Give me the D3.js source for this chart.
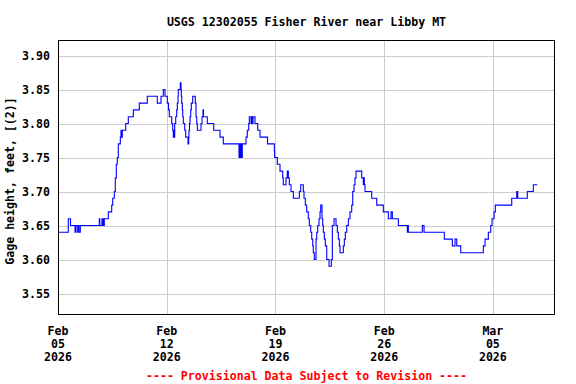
<!DOCTYPE html>
<html>
<head>
<meta charset="utf-8">
<script src="https://cdn.jsdelivr.net/npm/d3@7/dist/d3.min.js"></script>
<style>
  html, body { margin: 0; padding: 0; background: #fff; }
  svg { display: block; }
  text { font-family: "DejaVu Sans Mono", "Liberation Mono", monospace; font-weight: bold; font-size: 11.6px; }
</style>
</head>
<body>
<svg id="chart" width="576" height="384"></svg>
<script>
// ---- Data ----
const titleText = "USGS 12302055 Fisher River near Libby MT";
const yLabelText = "Gage height, feet, [(2)]";
const footerText = "---- Provisional Data Subject to Revision ----";

// time as days after 2026-02-05 00:00
const dayOffsets = [
  0, 0.663, 0.805, 1.095, 1.159, 1.269, 1.307, 1.352, 1.436, 2.659, 2.692, 2.833, 2.878, 2.917, 2.949, 2.981,
  3.239, 3.458, 3.522, 3.625, 3.690, 3.754, 3.818, 3.883, 4.012, 4.057, 4.102, 4.140, 4.359, 4.527, 4.849,
  5.235, 5.750, 6.394, 6.632, 6.780, 6.890, 7.038, 7.115, 7.167, 7.321, 7.386, 7.424, 7.457, 7.482, 7.515,
  7.579, 7.643, 7.682, 7.727, 7.746, 7.875, 7.920, 7.940, 7.965, 8.004, 8.030, 8.068, 8.159, 8.223, 8.371,
  8.416, 8.435, 8.468, 8.500, 8.545, 8.583, 8.674, 8.841, 8.886, 8.931, 8.970, 9.208, 9.273, 9.337, 9.369,
  9.614, 10.026, 10.431, 10.644, 11.655, 11.700, 11.739, 11.784, 11.816, 11.867, 12.106, 12.189, 12.280,
  12.318, 12.428, 12.473, 12.511, 12.556, 12.685, 12.859, 13.007, 13.490, 13.928, 13.948, 14.121, 14.295,
  14.469, 14.507, 14.681, 14.765, 14.830, 14.894, 15.003, 15.151, 15.538, 15.628, 15.795, 15.840, 15.924,
  16.014, 16.117, 16.182, 16.272, 16.336, 16.401, 16.439, 16.504, 16.613, 16.658, 16.723, 16.806, 16.871,
  16.916, 17.000, 17.045, 17.083, 17.148, 17.212, 17.302, 17.450, 17.598, 17.663, 17.772, 17.901, 17.985,
  18.049, 18.113, 18.158, 18.371, 18.435, 18.500, 18.590, 18.693, 18.802, 18.912, 18.976, 19.060, 19.124,
  19.189, 19.556, 19.659, 19.691, 19.723, 19.768, 20.200, 20.522, 20.947, 21.269, 21.442, 21.526, 21.913,
  22.492, 22.524, 22.556, 23.458, 23.567, 24.874, 25.390, 25.563, 25.673, 25.930, 27.386, 27.495, 27.708,
  27.862, 27.946, 28.075, 28.159, 29.214, 29.536, 29.601, 30.219, 30.605, 30.863
];
const gageHeights = [
  3.64, 3.66, 3.65, 3.64, 3.65, 3.64, 3.65, 3.64, 3.65, 3.66, 3.65, 3.66, 3.65, 3.66, 3.65, 3.66,
  3.67, 3.68, 3.69, 3.70, 3.72, 3.74, 3.75, 3.77, 3.78, 3.79, 3.78, 3.79, 3.80, 3.81, 3.82,
  3.83, 3.84, 3.83, 3.84, 3.85, 3.84, 3.83, 3.82, 3.81, 3.80, 3.79, 3.78, 3.79, 3.78, 3.80,
  3.81, 3.82, 3.83, 3.84, 3.85, 3.86, 3.85, 3.84, 3.83, 3.82, 3.81, 3.80, 3.79, 3.78, 3.77,
  3.78, 3.79, 3.80, 3.81, 3.82, 3.83, 3.84, 3.83, 3.81, 3.80, 3.79, 3.80, 3.81, 3.82, 3.81,
  3.80, 3.79, 3.78, 3.77, 3.75, 3.77, 3.75, 3.77, 3.75, 3.77, 3.78, 3.79, 3.80,
  3.81, 3.80, 3.81, 3.80, 3.81, 3.80, 3.79, 3.78, 3.77, 3.76, 3.75, 3.74, 3.73,
  3.72, 3.71, 3.72, 3.73, 3.72, 3.71, 3.70, 3.69, 3.70, 3.71, 3.70, 3.69, 3.68,
  3.67, 3.66, 3.65, 3.64, 3.63, 3.62, 3.61, 3.60, 3.63, 3.64, 3.65, 3.66, 3.67,
  3.68, 3.66, 3.65, 3.64, 3.63, 3.62, 3.60, 3.59, 3.60, 3.65, 3.66, 3.65, 3.64,
  3.63, 3.62, 3.61, 3.62, 3.63, 3.64, 3.65, 3.66, 3.67, 3.68, 3.70, 3.71, 3.72,
  3.73, 3.72, 3.71, 3.72, 3.71, 3.70, 3.69, 3.68, 3.67, 3.66, 3.67, 3.66, 3.65,
  3.64, 3.65, 3.64, 3.65, 3.64, 3.63, 3.62, 3.63, 3.62, 3.61, 3.62, 3.63, 3.64,
  3.65, 3.66, 3.67, 3.68, 3.69, 3.70, 3.69, 3.70, 3.71, 3.71
];
const yTicks = [3.55, 3.60, 3.65, 3.70, 3.75, 3.80, 3.85, 3.90];
const xTickDates = ["2026-02-05", "2026-02-12", "2026-02-19", "2026-02-26", "2026-03-05"];
const xDomainDates = ["2026-02-05", "2026-03-09"];
const yDomain = [3.5184, 3.9228];

// ---- Layout ----
const svg = d3.select("#chart");
const plot = { left: 58, right: 555, top: 40, bottom: 315 };
const DAY = 86400000;
const parse = d3.utcParse("%Y-%m-%d");
const start = parse(xDomainDates[0]);

const x = d3.scaleUtc().domain(xDomainDates.map(parse)).range([plot.left, plot.right]);
const y = d3.scaleLinear().domain(yDomain).range([plot.bottom, plot.top]);

const data = dayOffsets.map((d, i) => ({ t: new Date(start.getTime() + d * DAY), v: gageHeights[i] }));

// grid
const grid = svg.append("g").attr("shape-rendering", "crispEdges");
grid.selectAll("line.h").data(yTicks).enter().append("line")
  .attr("x1", plot.left).attr("x2", plot.right)
  .attr("y1", d => Math.round(y(d)) + 0.5).attr("y2", d => Math.round(y(d)) + 0.5)
  .attr("stroke", "#cccccc").attr("stroke-width", 1);
grid.selectAll("line.v").data(xTickDates.slice(1)).enter().append("line")
  .attr("x1", d => Math.round(x(parse(d))) + 0.5).attr("x2", d => Math.round(x(parse(d))) + 0.5)
  .attr("y1", plot.top).attr("y2", plot.bottom)
  .attr("stroke", "#cccccc").attr("stroke-width", 1);

// clip
svg.append("clipPath").attr("id", "clip").append("rect")
  .attr("x", plot.left).attr("y", plot.top)
  .attr("width", plot.right - plot.left).attr("height", plot.bottom - plot.top);

// line
const line = d3.line().x(d => x(d.t)).y(d => y(d.v)).curve(d3.curveStepAfter);
svg.append("path").datum(data)
  .attr("clip-path", "url(#clip)")
  .attr("d", line)
  .attr("fill", "none").attr("stroke", "#0000ff").attr("stroke-width", 1.1)
  .attr("stroke-linejoin", "miter");

// frame
svg.append("rect")
  .attr("x", plot.left + 0.5).attr("y", plot.top + 0.5)
  .attr("width", plot.right - plot.left - 1).attr("height", plot.bottom - plot.top - 1)
  .attr("fill", "none").attr("stroke", "#000").attr("stroke-width", 1)
  .attr("shape-rendering", "crispEdges");

// y axis labels
const yAxis = d3.axisLeft(y).tickValues(yTicks).tickFormat(d3.format(".2f")).tickSize(0).tickPadding(8);
const yg = svg.append("g").attr("transform", `translate(${plot.left},0)`).call(yAxis);
yg.select(".domain").remove();
yg.selectAll("text").attr("font-family", null).attr("font-size", null).attr("fill", "#000");

// x axis labels (3 lines)
const fmtMon = d3.utcFormat("%b"), fmtDay = d3.utcFormat("%d"), fmtYear = d3.utcFormat("%Y");
const xl = svg.append("g");
xTickDates.forEach(ds => {
  const dt = parse(ds);
  const t = xl.append("text").attr("text-anchor", "middle").attr("fill", "#000");
  [fmtMon(dt), fmtDay(dt), fmtYear(dt)].forEach((s, i) => {
    t.append("tspan").attr("x", x(dt)).attr("y", 334.5 + i * 13).text(s);
  });
});

// title
svg.append("text").attr("x", (plot.left + plot.right) / 2).attr("y", 26)
  .attr("text-anchor", "middle").attr("fill", "#000").text(titleText);

// y label
svg.append("text").attr("transform", "translate(14,181) rotate(-90)")
  .attr("text-anchor", "middle").attr("fill", "#000").text(yLabelText);

// footer
svg.append("text").attr("x", (plot.left + plot.right) / 2).attr("y", 379.5)
  .attr("text-anchor", "middle").attr("fill", "#ff0000").text(footerText);
</script>
</body>
</html>
